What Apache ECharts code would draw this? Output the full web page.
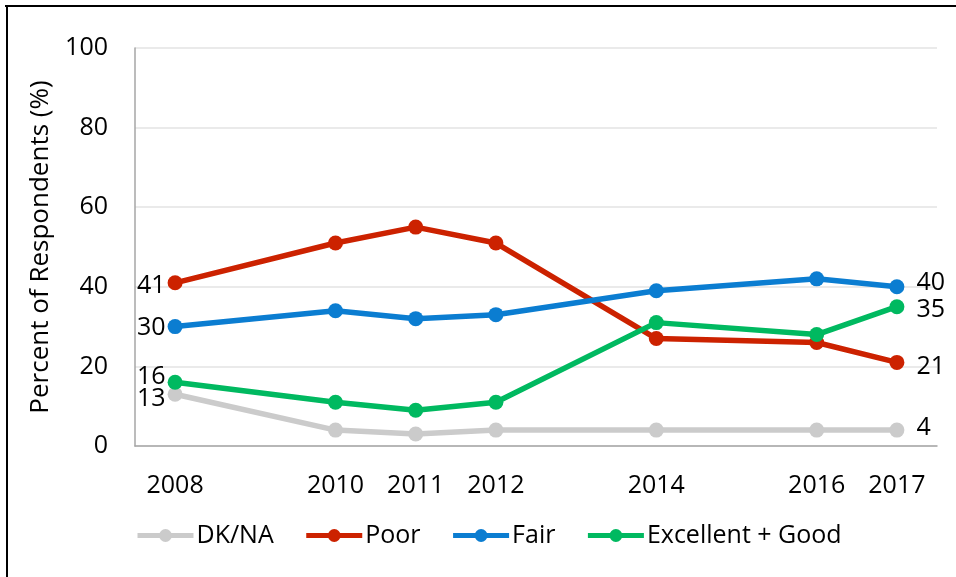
<!DOCTYPE html>
<html>
<head>
<meta charset="utf-8">
<script src="https://cdn.jsdelivr.net/npm/echarts@6/dist/echarts.min.js"></script>
<style>
html,body{margin:0;padding:0;background:#fff;}
#chart{width:956px;height:577px;}
</style>
</head>
<body>
<div id="chart"></div>
<script>
const years = [2008, 2010, 2011, 2012, 2014, 2016, 2017];
const dkna = [13, 4, 3, 4, 4, 4, 4];
const poor = [41, 51, 55, 51, 27, 26, 21];
const fair = [30, 34, 32, 33, 39, 42, 40];
const excellentGood = [16, 11, 9, 11, 31, 28, 35];
const seriesNames = ['DK/NA', 'Poor', 'Fair', 'Excellent + Good'];
const yTicks = [0, 20, 40, 60, 80, 100];

const colors = ['#cbcbcb', '#cc2200', '#0b7dd1', '#00b960'];
const fontFam = '"Open Sans", "Liberation Sans", sans-serif';
// label vertical offsets for first/last labels (style only)
const firstOffsets = [5, 3, 1, -5];
const lastOffsets = [-2, 4, -4, 3];

function build(values, idx) {
  return values.map((v, i) => {
    const item = { value: [years[i], v] };
    if (i === 0) {
      item.label = { show: true, position: 'left', distance: 2, offset: [0, firstOffsets[idx]] };
    } else if (i === values.length - 1) {
      item.label = { show: true, position: 'right', distance: 12, offset: [0, lastOffsets[idx]] };
    }
    return item;
  });
}

const allData = [dkna, poor, fair, excellentGood];

const chart = echarts.init(document.getElementById('chart'));
chart.setOption({
  animation: false,
  backgroundColor: '#fff',
  textStyle: { fontFamily: fontFam },
  graphic: [
    { type: 'rect', shape: { x: 5, y: 5, width: 951, height: 2 }, style: { fill: '#000' } },
    { type: 'rect', shape: { x: 6, y: 5, width: 2, height: 572 }, style: { fill: '#000' } }
  ],
  grid: { left: 135, right: 19, top: 48, bottom: 131, containLabel: false },
  legend: {
    left: 135, top: 523, padding: 0,
    itemWidth: 56, itemHeight: 16, itemGap: 30,
    lineStyle: { width: 5 },
    textStyle: { fontSize: 25, color: '#000', fontFamily: fontFam, padding: [0, 0, 0, -2] },
    data: seriesNames
  },
  xAxis: {
    type: 'value', min: 2007.5, max: 2017.5,
    axisLine: { show: true, lineStyle: { color: '#a6a6a6', width: 1.5 } },
    axisTick: { show: false },
    splitLine: { show: false },
    axisLabel: {
      customValues: years,
      fontSize: 25, color: '#000', margin: 27,
      formatter: v => String(v)
    }
  },
  yAxis: {
    type: 'value', min: 0, max: 100, interval: 20,
    name: 'Percent of Respondents (%)',
    nameLocation: 'middle', nameGap: 81,
    nameTextStyle: { fontSize: 26, color: '#000' },
    axisLine: { show: true, lineStyle: { color: '#a6a6a6', width: 1.5 } },
    axisTick: { show: false },
    splitLine: { lineStyle: { color: '#e3e3e3', width: 1.5 } },
    axisLabel: { fontSize: 25, color: '#000', margin: 27 }
  },
  series: allData.map((d, idx) => ({
    name: seriesNames[idx],
    type: 'line',
    data: build(d, idx),
    color: colors[idx],
    symbol: 'circle',
    symbolSize: 15,
    lineStyle: { width: 5.5, color: colors[idx] },
    itemStyle: { color: colors[idx] },
    label: { fontSize: 25, color: '#000', formatter: p => String(p.value[1]) },
    z: 2 + idx
  }))
});
</script>
</body>
</html>
